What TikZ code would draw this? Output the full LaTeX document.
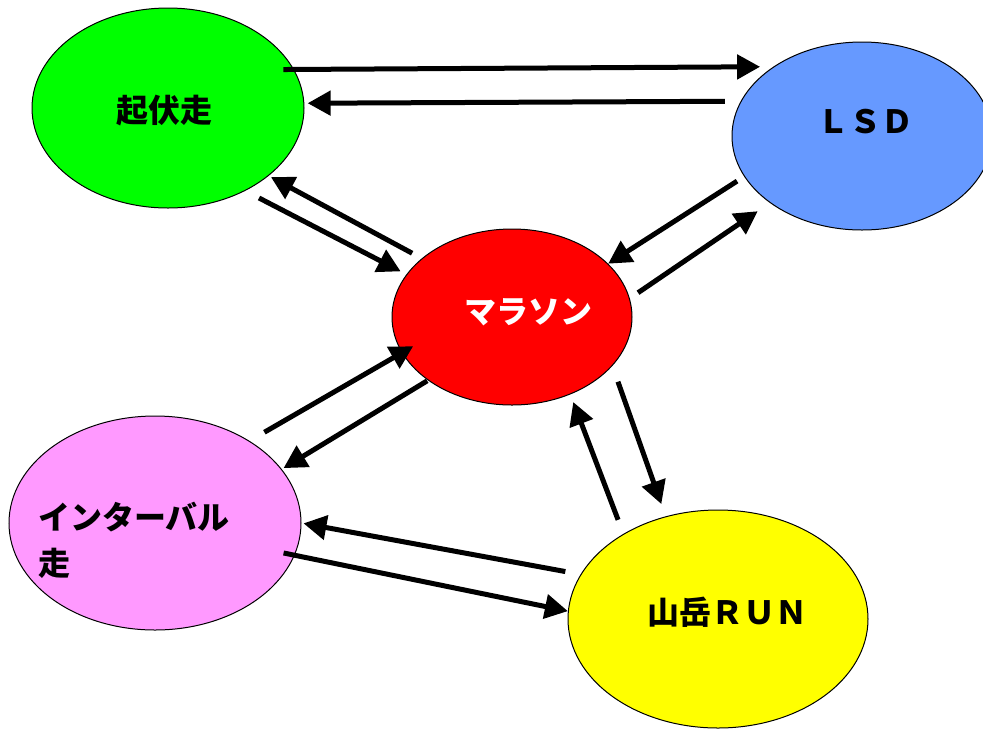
\documentclass[tikz,border=0pt]{standalone}
\usepackage{fontspec}
\usetikzlibrary{shapes.geometric,arrows.meta,positioning}
\newfontfamily\jpfont{Noto Sans CJK JP}

\definecolor{kifukuGreen}{HTML}{00FF00}
\definecolor{lsdBlue}{HTML}{6699FF}
\definecolor{marathonRed}{HTML}{FF0000}
\definecolor{intervalPink}{HTML}{FF99FF}
\definecolor{sangakuYellow}{HTML}{FFFF00}

\tikzstyle{oval} = [ellipse, draw=black, line width=1pt, inner sep=0pt]
\tikzstyle{txt} = [font=\jpfont\bfseries\fontsize{32pt}{46pt}\selectfont, inner sep=0pt]

\begin{document}
\begin{tikzpicture}[x=1pt,y=-1pt,>={Triangle[length=23pt,width=24pt]},line width=5pt,node distance=350pt]
\useasboundingbox (0,0) rectangle (983,729);

\node[oval, fill=marathonRed, minimum width=240pt, minimum height=176pt,
  label={[txt, text=white, xshift=16pt, yshift=4.5pt]center:マラソン}] (marathon) at (512,317) {};
\node[oval, fill=kifukuGreen, minimum width=272pt, minimum height=200pt,
  label={[txt, xshift=-4pt, yshift=-3pt]center:起伏走}] (kifuku) [left of=marathon, xshift=6pt, yshift=209pt] {};
\node[oval, fill=lsdBlue, minimum width=260pt, minimum height=188pt,
  label={[txt, xshift=3pt, yshift=14pt]center:ＬＳＤ}] (lsd) [right of=marathon, yshift=181pt] {};
\node[oval, fill=intervalPink, minimum width=292pt, minimum height=214pt,
  label={[txt, align=left, xshift=-21pt, yshift=-17pt]center:インターバル\\走}] (interval) [left of=marathon, xshift=-7pt, yshift=-206pt] {};
\node[oval, fill=sangakuYellow, minimum width=300pt, minimum height=218pt,
  label={[txt, xshift=9pt, yshift=7pt]center:山岳ＲＵＮ}] (sangaku) [right of=marathon, xshift=-144pt, yshift=-302pt] {};

% kifuku <-> lsd
\draw[->, shorten <=-10.6pt, shorten >=13.2pt] (kifuku.17.8) -- (lsd.142.85);
\draw[->, shorten <=15.8pt, shorten >=3.3pt] (lsd.164.33) -- (kifuku.2.53);
% kifuku <-> marathon
\draw[->, shorten <=10.9pt, shorten >=2.6pt] (marathon.147.36) -- (kifuku.-34.87);
\draw[->, shorten <=15.5pt, shorten >=6.5pt] (kifuku.-47.32) -- (marathon.158.92);
% lsd <-> marathon
\draw[->, shorten <=8.4pt] (lsd.-161.48) -- (marathon.29.62);
\draw[->, shorten <=10pt, shorten >=14.7pt] (marathon.9.92) -- (lsd.-144.68);
% interval <-> marathon
\draw[->, shorten <=17.2pt, shorten >=-13.1pt] (interval.41.49) -- (marathon.-162.6);
\draw[->, shorten <=0.8pt, shorten >=2pt] (marathon.-143.41) -- (interval.23.69);
% marathon <-> sangaku
\draw[->, shorten <=16.7pt, shorten >=13pt] (marathon.-26.33) -- (sangaku.117.83);
\draw[->, shorten <=15pt, shorten >=8.1pt] (sangaku.138.75) -- (marathon.-53.57);
% sangaku <-> interval
\draw[->, shorten <=15.5pt, shorten >=2pt] (sangaku.162.63) -- (interval.0.15);
\draw[->, shorten <=-11.4pt] (interval.-13.09) -- (sangaku.177.72);

\end{tikzpicture}
\end{document}
